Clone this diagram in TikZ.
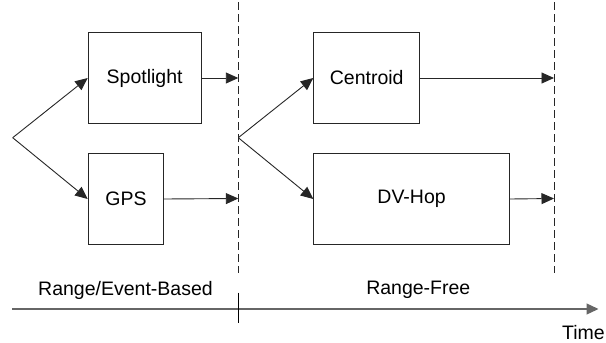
\documentclass[tikz,border=0pt]{standalone}
\usepackage{fontspec}
\setmainfont{Liberation Sans}
\usetikzlibrary{arrows.meta}
\begin{document}
\begin{tikzpicture}[x=1pt,y=-1pt,
  box/.style={draw=black!85,line width=0.9pt,minimum width=#1,minimum height=90.5pt,inner sep=0pt,font=\fontsize{19.5}{22}\selectfont,anchor=north west},
  conn/.style={draw=black!85,line width=0.9pt,-{Triangle[length=12.5pt,width=11pt]}},
  divider/.style={draw=black!85,line width=0.9pt,dash pattern=on 8pt off 4pt},
  lbl/.style={font=\fontsize{19.5}{22}\selectfont,inner sep=0pt}]
\useasboundingbox (0,0) rectangle (606,343);
% boxes
\node[box=113pt] (spot) at (87.7,32.3) {Spotlight};
\node[box=75.6pt] (gps) at (87.7,153.3) {GPS};
\node[box=106pt] (cent) at (313.3,32.3) {Centroid};
\node[box=195.7pt] (dv) at (313.3,153.3) {DV-Hop};
% branch points and dividers
\coordinate (b1) at (12.7,137.7);
\coordinate (b2) at (238.3,137.7);
\coordinate (d1top) at (238.3,2);
\coordinate (d1bot) at (238.3,273);
\coordinate (d2top) at (554,2);
\coordinate (d2bot) at (554,273);
\draw[divider] (d1top) -- (d1bot);
\draw[divider] (d2top) -- (d2bot);
\coordinate (s1) at (238.3,78);
\coordinate (g1) at (238.3,198.5);
\coordinate (c1) at (554,78);
\coordinate (h1) at (554,198.5);
% connectors
\draw[conn] (b1) -- (spot.west);
\draw[conn] (b1) -- (gps.west);
\draw[conn] (b2) -- (cent.west);
\draw[conn] (b2) -- (dv.west);
\draw[conn] (spot.east) -- (s1);
\draw[conn] (gps.east) -- (g1);
\draw[conn] (cent.east) -- (c1);
\draw[conn] (dv.east) -- (h1);
% time axis
\coordinate (t0) at (12,309);
\coordinate (t1) at (598.5,309);
\coordinate (k0) at (238.3,292.5);
\coordinate (k1) at (238.3,322.7);
\draw[draw=black!60,line width=1.3pt,-{Triangle[length=12pt,width=11pt]}] (t0) -- (t1);
\draw[line width=0.9pt] (k0) -- (k1);
% labels
\node[lbl] (rev) at (125.5,290) {Range/Event-Based};
\node[lbl] (rf) at (418.3,290) {Range-Free};
\node[lbl] (time) at (583.5,332.5) {Time};
\end{tikzpicture}
\end{document}
